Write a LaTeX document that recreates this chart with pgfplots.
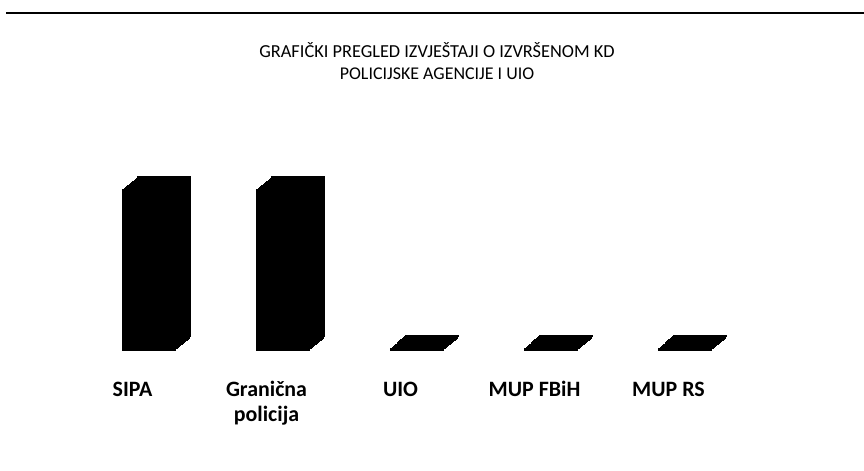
\documentclass[border=0pt]{standalone}
\usepackage{fontspec}
\setmainfont{Carlito}
\usepackage{pgfplots}
\pgfplotsset{compat=1.18}
\usepackage{pgfplotstable}
\pgfplotstableread{
x y
0 100
1 100
2 1
3 1
4 1
}\bars
\begin{document}
\begin{tikzpicture}
\path[use as bounding box] (0,0) rectangle (432bp,235.5bp);
\draw[line width=1bp] (3bp,229.15bp) -- (432bp,229.15bp);
\node[anchor=base, font=\fontsize{9.2}{10}\selectfont, inner sep=0pt] at (218.5bp,206.5bp) {GRAFIČKI PREGLED IZVJEŠTAJI O IZVRŠENOM KD};
\node[anchor=base, font=\fontsize{9}{10}\selectfont, inner sep=0pt] at (218.5bp,195.5bp) {POLICIJSKE AGENCIJE I UIO};
\begin{axis}[
 at={(21.15bp,60.5bp)}, anchor=south west,
 scale only axis, width=388.6bp, height=100bp,
 xmin=-0.8, xmax=5, ymin=0, ymax=125,
 enlargelimits=false, clip=false,
 axis line style={draw=none}, tick style={draw=none},
 ytick=\empty, xtick={0,...,4},
 xticklabels={SIPA,{Granična\\policija},UIO,MUP FBiH,MUP RS},
 typeset ticklabels with strut,
 xticklabel style={font=\fontsize{11}{12.5}\selectfont\bfseries, align=center, xshift=-8.5bp, yshift=-6.6bp},
 ybar, bar width=26.5bp,
]
\pgfplotsinvokeforeach{0,...,12}{
 \addplot[fill=black, draw=black, line width=0.5bp, bar shift=0pt, xshift=#1*0.625bp, yshift=#1*0.5417bp] table[x=x,y=y]{\bars};
}
\end{axis}
\end{tikzpicture}
\end{document}
